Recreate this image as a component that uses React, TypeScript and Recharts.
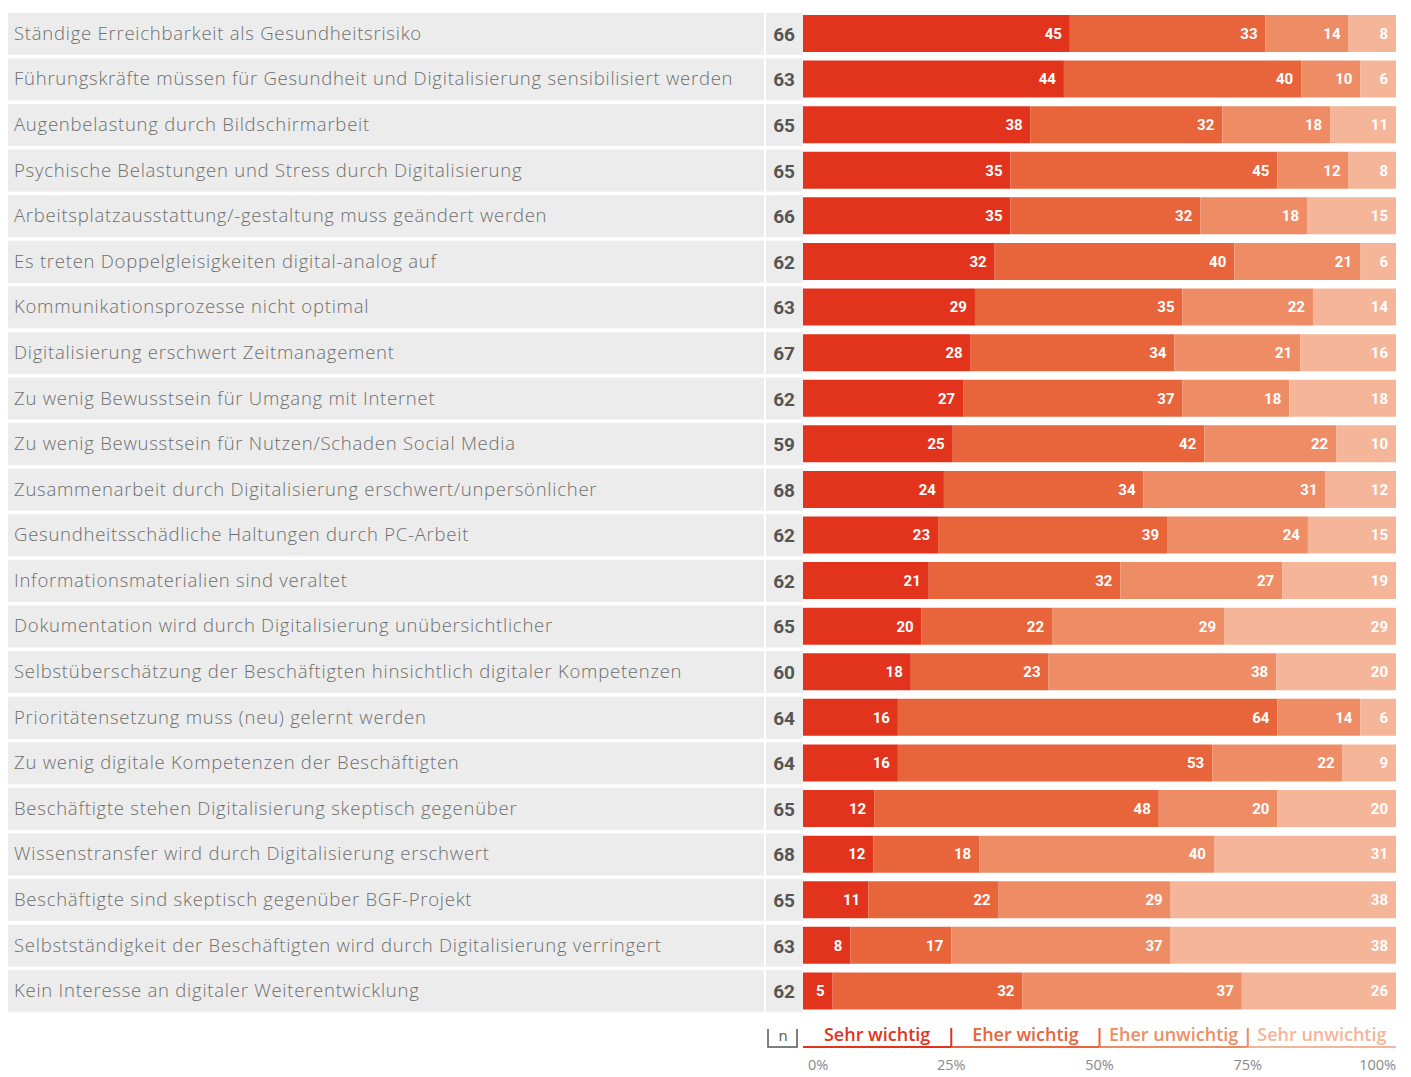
import { BarChart, Bar, XAxis, YAxis, LabelList } from 'recharts';

// Statements (top to bottom) and sample size n
const categories = [
  'Ständige Erreichbarkeit als Gesundheitsrisiko',
  'Führungskräfte müssen für Gesundheit und Digitalisierung sensibilisiert werden',
  'Augenbelastung durch Bildschirmarbeit',
  'Psychische Belastungen und Stress durch Digitalisierung',
  'Arbeitsplatzausstattung/-gestaltung muss geändert werden',
  'Es treten Doppelgleisigkeiten digital-analog auf',
  'Kommunikationsprozesse nicht optimal',
  'Digitalisierung erschwert Zeitmanagement',
  'Zu wenig Bewusstsein für Umgang mit Internet',
  'Zu wenig Bewusstsein für Nutzen/Schaden Social Media',
  'Zusammenarbeit durch Digitalisierung erschwert/unpersönlicher',
  'Gesundheitsschädliche Haltungen durch PC-Arbeit',
  'Informationsmaterialien sind veraltet',
  'Dokumentation wird durch Digitalisierung unübersichtlicher',
  'Selbstüberschätzung der Beschäftigten hinsichtlich digitaler Kompetenzen',
  'Prioritätensetzung muss (neu) gelernt werden',
  'Zu wenig digitale Kompetenzen der Beschäftigten',
  'Beschäftigte stehen Digitalisierung skeptisch gegenüber',
  'Wissenstransfer wird durch Digitalisierung erschwert',
  'Beschäftigte sind skeptisch gegenüber BGF-Projekt',
  'Selbstständigkeit der Beschäftigten wird durch Digitalisierung verringert',
  'Kein Interesse an digitaler Weiterentwicklung',
];
const nValues = [66, 63, 65, 65, 66, 62, 63, 67, 62, 59, 68, 62, 62, 65, 60, 64, 64, 65, 68, 65, 63, 62];

// Answer shares in percent (rounded, so rows sum to 99-101)
const sehrWichtig = [45, 44, 38, 35, 35, 32, 29, 28, 27, 25, 24, 23, 21, 20, 18, 16, 16, 12, 12, 11, 8, 5];
const eherWichtig = [33, 40, 32, 45, 32, 40, 35, 34, 37, 42, 34, 39, 32, 22, 23, 64, 53, 48, 18, 22, 17, 32];
const eherUnwichtig = [14, 10, 18, 12, 18, 21, 22, 21, 18, 22, 31, 24, 27, 29, 38, 14, 22, 20, 40, 29, 37, 37];
const sehrUnwichtig = [8, 6, 11, 8, 15, 6, 14, 16, 18, 10, 12, 15, 19, 29, 20, 6, 9, 20, 31, 38, 38, 26];

const seriesNames = ['Sehr wichtig', 'Eher wichtig', 'Eher unwichtig', 'Sehr unwichtig'];
const seriesColors = ['#e2331c', '#e8653c', '#ee8d65', '#f4b598'];
const percentTicks = [0, 25, 50, 75, 100];

const data = categories.map((label, i) => ({
  label,
  n: nValues[i],
  s1: sehrWichtig[i],
  s2: eherWichtig[i],
  s3: eherUnwichtig[i],
  s4: sehrUnwichtig[i],
}));

const WIDTH = 1411;
const HEIGHT = 1077;
const Y_WIDTH = 803;
const RIGHT = 15;
const PLOT_W = WIDTH - Y_WIDTH - RIGHT;
const QUARTER = PLOT_W / 4;

const LABEL_FONT = 'Open Sans, sans-serif';
const NUM_FONT = 'Roboto, sans-serif';

const RowTick = (props: any) => {
  const { x, y, payload } = props;
  const i = categories.indexOf(payload.value);
  return (
    <g>
      <rect x={8} y={y - 21} width={756} height={42} fill="#ececec" />
      <rect x={766} y={y - 21} width={Y_WIDTH - 766} height={42} fill="#ececec" />
      <text
        x={14}
        y={y + 6}
        fill="#6e6e6e"
        fontSize={18.5}
        fontWeight={300}
        letterSpacing={0.75}
        fontFamily={LABEL_FONT}
      >
        {payload.value}
      </text>
      <text
        x={x - 6}
        y={y + 7}
        textAnchor="end"
        fill="#555"
        fontSize={19}
        fontWeight="bold"
        fontFamily={NUM_FONT}
      >
        {nValues[i]}
      </text>
    </g>
  );
};

// x axis: legend segments per quarter on top, percent labels below
const AxisTick = (props: any) => {
  const { x, y, payload } = props;
  const v = Math.round(payload.value * 100);
  const idx = percentTicks.indexOf(v);
  const color = seriesColors[idx];
  const anchor = v === 0 ? 'start' : v === 100 ? 'end' : 'middle';
  return (
    <g>
      {idx === 0 && (
        <g>
          <polyline
            points={`${x - 35},${y + 15} ${x - 35},${y + 33} ${x - 6},${y + 33} ${x - 6},${y + 15}`}
            stroke="#555"
            strokeWidth={1.5}
            fill="none"
          />
          <text x={x - 20} y={y + 27} textAnchor="middle" fill="#555" fontSize={15} fontFamily={LABEL_FONT}>
            n
          </text>
        </g>
      )}
      {idx < 4 && (
        <g>
          <text
            x={x + QUARTER / 2}
            y={y + 27}
            textAnchor="middle"
            fill={color}
            fontSize={18}
            fontWeight={600}
            fontFamily={LABEL_FONT}
          >
            {seriesNames[idx]}
          </text>
          <line x1={x} x2={x + QUARTER} y1={y + 33} y2={y + 33} stroke={color} strokeWidth={2} />
        </g>
      )}
      {idx > 0 && idx < 4 && (
        <line x1={x} x2={x} y1={y + 14} y2={y + 33} stroke={seriesColors[idx - 1]} strokeWidth={2} />
      )}
      <text
        x={v === 0 ? x + 5 : x}
        y={y + 56}
        textAnchor={anchor}
        fill="#888"
        fontSize={14.5}
        fontFamily={LABEL_FONT}
      >
        {`${v}%`}
      </text>
    </g>
  );
};

const App = () => {
  return (
    <div style={{ position: 'absolute', left: 0, top: 0, background: '#fff' }}>
      <BarChart
        width={WIDTH}
        height={HEIGHT}
        data={data}
        layout="vertical"
        stackOffset="expand"
        margin={{ top: 11, right: RIGHT, bottom: 0, left: 0 }}
        barSize={37}
      >
        <YAxis
          type="category"
          dataKey="label"
          width={Y_WIDTH}
          axisLine={false}
          tickLine={false}
          tickSize={0}
          tick={<RowTick />}
          interval={0}
        />
        <XAxis
          type="number"
          domain={[0, 1]}
          ticks={percentTicks.map((t) => t / 100)}
          height={63}
          axisLine={false}
          tickLine={false}
          tickSize={0}
          tickMargin={0}
          tick={<AxisTick />}
          interval={0}
        />
        {['s1', 's2', 's3', 's4'].map((key, i) => (
          <Bar
            key={key}
            dataKey={key}
            stackId="a"
            fill={seriesColors[i]}
            name={seriesNames[i]}
            isAnimationActive={false}
          >
            <LabelList
              dataKey={key}
              position="insideRight"
              offset={8}
              fill="#fff"
              fontSize={15}
              fontWeight="bold"
              fontFamily={NUM_FONT}
            />
          </Bar>
        ))}
      </BarChart>
    </div>
  );
};

export default App;
